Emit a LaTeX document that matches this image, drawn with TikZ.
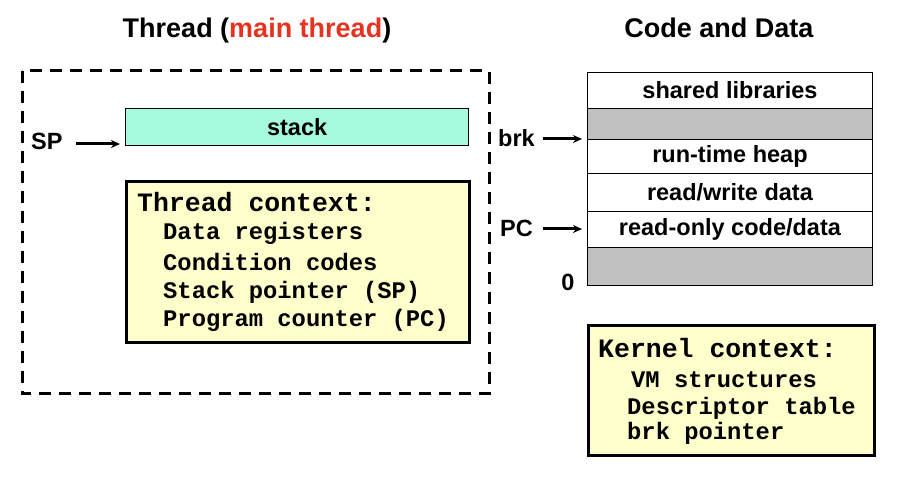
\documentclass[tikz,border=0pt]{standalone}
\usepackage{fontspec}
\setmainfont{Liberation Sans}
\newfontfamily\codefont{Liberation Mono}
\usetikzlibrary{arrows.meta}
\definecolor{titlered}{RGB}{230,50,30}
\definecolor{stackfill}{RGB}{166,251,222}
\definecolor{ctxfill}{RGB}{255,255,204}
\definecolor{memgray}{RGB}{192,192,192}
\tikzset{
  title/.style={font=\fontsize{27}{30}\selectfont\bfseries, inner sep=0pt, anchor=base},
  lbl/.style={font=\fontsize{23.5}{26}\selectfont\bfseries, inner sep=0pt},
  memrow/.style={draw=black, line width=0.9pt, minimum width=285pt, inner sep=0pt, anchor=north west},
  ctxbox/.style={draw=black, line width=3pt, fill=ctxfill, anchor=north west, inner sep=0pt},
  cthead/.style={font=\codefont\fontsize{26.5}{30}\selectfont\bfseries, inner sep=0pt, anchor=west},
  ctitem/.style={font=\codefont\fontsize{23.8}{28}\selectfont\bfseries, inner sep=0pt, anchor=west},
  ptr/.style={-{Stealth[length=9pt,width=8pt]}, line width=3pt, shorten >=5pt},
}
\begin{document}
\begin{tikzpicture}[x=1pt,y=-1pt]
\useasboundingbox (0,0) rectangle (898,486);
% titles
\node[title] (t1) at (257,38) {Thread (\textcolor{titlered}{main thread})};
\node[title] (t2) at (719,38) {Code and Data};
% dashed thread box
\draw[line width=3pt, dash pattern=on 12pt off 8pt] (22,71) rectangle (489,394);
% stack
\node[draw=black, line width=1.2pt, fill=stackfill, minimum width=343pt, minimum height=37pt, anchor=north west, inner sep=0pt] (stack) at (125,108) {};
\node[lbl] (stacklbl) at (stack.center) {stack};
\node[lbl, anchor=west] (sp) at (31,141) {SP};
\coordinate (sptail) at (76,144);
\draw[ptr] (sptail) -- (sptail -| stack.west);
% thread context
\node[ctxbox, minimum width=343pt, minimum height=161pt] (tctx) at (125,180) {};
\node[cthead] (th) at (137,202) {Thread context:};
\node[ctitem] (i1) at (163,233) {Data registers};
\node[ctitem] (i2) at (163,262) {Condition codes};
\node[ctitem] (i3) at (163,292) {Stack pointer (SP)};
\node[ctitem] (i4) at (163,320) {Program counter (PC)};
% memory
\node[memrow, minimum height=36pt] (m1) at (587,72) {};
\node[lbl] at (m1.center) {shared libraries};
\node[memrow, minimum height=31pt, fill=memgray] (m2) at (587,108) {};
\node[memrow, minimum height=34pt] (m3) at (587,139) {};
\node[lbl] at (m3.center) {run-time heap};
\node[memrow, minimum height=38pt] (m4) at (587,173) {};
\node[lbl] at (m4.center) {read/write data};
\node[memrow, minimum height=36pt] (m5) at (587,211) {};
\node[lbl] at (m5.center) {read-only code/data};
\node[memrow, minimum height=38pt, fill=memgray] (m6) at (587,247) {};
\node[lbl, anchor=west] (brk) at (498,138) {brk};
\node[lbl, anchor=west] (pc) at (500,228) {PC};
\node[lbl] (zero) at (568,282) {0};
\coordinate (brktail) at (543,139);
\coordinate (pctail) at (543,229);
\draw[ptr] (brktail) -- (brktail -| m3.west);
\draw[ptr] (pctail) -- (pctail -| m5.west);
% kernel context
\node[ctxbox, minimum width=286pt, minimum height=130pt] (kctx) at (587,324) {};
\node[cthead] (kh) at (598,348) {Kernel context:};
\node[ctitem] (k1) at (631,380) {VM structures};
\node[ctitem] (k2) at (627,408) {Descriptor table};
\node[ctitem] (k3) at (627,433) {brk pointer};
\end{tikzpicture}
\end{document}
